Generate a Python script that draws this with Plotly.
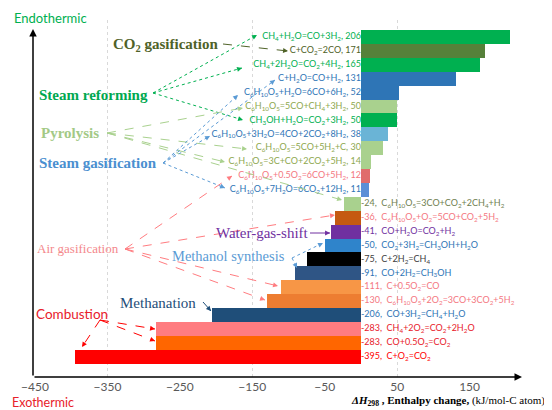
import math
import plotly.graph_objects as go

# ---------------- data ----------------
reactions = [
    "CH4+H2O=CO+3H2", "C+CO2=2CO", "CH4+2H2O=CO2+4H2", "C+H2O=CO+H2",
    "C6H10O5+H2O=6CO+6H2", "C6H10O5=5CO+CH4+3H2", "CH3OH+H2O=CO2+3H2",
    "C6H10O5+3H2O=4CO+2CO2+8H2", "C6H10O5=5CO+5H2+C", "C6H10O5=3C+CO+2CO2+5H2",
    "C6H10O5+0.5O2=6CO+5H2", "C6H10O5+7H2O=6CO2+12H2",
    "C6H10O5=3CO+CO2+2CH4+H2", "C6H10O5+O2=5CO+CO2+5H2", "CO+H2O=CO2+H2",
    "CO2+3H2=CH3OH+H2O", "C+2H2=CH4", "CO+2H2=CH3OH", "C+0.5O2=CO",
    "C6H10O5+2O2=3CO+3CO2+5H2", "CO+3H2=CH4+H2O", "CH4+2O2=CO2+2H2O",
    "CO+0.5O2=CO2", "C+O2=CO2",
]
enthalpy = [206, 171, 165, 131, 52, 50, 50, 38, 30, 14, 12, 11,
            -24, -36, -41, -50, -75, -91, -111, -130, -206, -283, -283, -395]
bar_colors = ["#00B050", "#56813A", "#00B050", "#2E75B6", "#2E75B6", "#A9D18E",
              "#00B050", "#6AB4D6", "#A9D18E", "#A9D18E", "#E06C6C", "#5B8FD6",
              "#A9D18E", "#C55A11", "#7030A0", "#2F84CB", "#000000", "#2F5585",
              "#F79646", "#ED7D31", "#1F4E79", "#FF7C80", "#FF6600", "#FF0000"]
text_colors = ["#00B050", "#4F6228", "#00B050", "#2E75B6", "#2E75B6", "#8EA84E",
               "#00B050", "#2E75B6", "#8EA84E", "#8EA84E", "#F4777F", "#2E75B6",
               "#6F8050", "#F4777F", "#7030A0", "#2E75B6", "#404040", "#2E75B6",
               "#F4777F", "#F4777F", "#2E75B6", "#E8202A", "#E8202A", "#FF0000"]
tick_values = [-450, -350, -250, -150, -50, 50, 150, 250]
grid_values = [-350, -150, 50, 250]


def chem(s):
    out, prev_sub = "", False
    for i, ch in enumerate(s):
        if ch.isdigit() and i > 0 and (s[i - 1].isalpha() or (s[i - 1].isdigit() and prev_sub)):
            out += "<sub>" + ch + "</sub>"
            prev_sub = True
        else:
            out += ch
            prev_sub = False
    return out.replace("</sub><sub>", "")


rows = list(range(len(reactions)))
labels = [(f"{chem(r)}, {v}" if v > 0 else f"{v},  {chem(r)}") for r, v in zip(reactions, enthalpy)]
positions = ["middle left" if v > 0 else "middle right" for v in enthalpy]

# ---------------- geometry (reference pixels; page body has an 8px margin) ----------------
OFF = 8
WIDTH, HEIGHT = 544, 402
PLOT_L, PLOT_R, PLOT_T, PLOT_B = 35, 542, 20, 377   # reference-pixel plot box
ML, MT = PLOT_L - OFF, PLOT_T - OFF
MR = WIDTH - (PLOT_R - OFF)
MB = HEIGHT - (PLOT_B - OFF)
PW, PH = PLOT_R - PLOT_L, PLOT_B - PLOT_T
XMIN, XMAX = -450, 250
ROW0, ROWH = 37, 13.9
YBOT = (PLOT_B - ROW0) / ROWH
YTOP = (PLOT_T - ROW0) / ROWH


def pap(px, py):
    return (px - PLOT_L) / PW, (PLOT_B - py) / PH


fig = go.Figure()
fig.add_trace(go.Bar(
    x=enthalpy, y=rows, orientation="h", width=1.0,
    marker=dict(color=bar_colors, line=dict(width=0)),
    hoverinfo="skip", showlegend=False,
))
fig.add_trace(go.Scatter(
    x=[0] * len(rows), y=rows, mode="text", text=labels, textposition=positions,
    textfont=dict(family="Lato", size=9, color=text_colors),
    hoverinfo="skip", showlegend=False, cliponaxis=False,
))

annotations = []
shapes = []


def text(t, px, py, color, size=15, family="Liberation Serif", xanchor="center"):
    x, y = pap(px, py)
    annotations.append(dict(text=t, x=x, y=y, xref="paper", yref="paper", showarrow=False,
                            xanchor=xanchor, yanchor="middle",
                            font=dict(family=family, size=size, color=color)))


def connector(tail, head, color, dash="dot", width=1.0):
    (tx, ty), (hx, hy) = tail, head
    x0, y0 = pap(tx, ty)
    x1, y1 = pap(hx, hy)
    shapes.append(dict(type="line", xref="paper", yref="paper", x0=x0, y0=y0, x1=x1, y1=y1,
                       line=dict(color=color, width=width, dash=dash)))
    dx, dy = hx - tx, hy - ty
    d = math.hypot(dx, dy) or 1
    L = 5
    annotations.append(dict(text="", x=x1, y=y1, xref="paper", yref="paper", showarrow=True,
                            ax=-dx / d * L, ay=-dy / d * L, arrowhead=2, arrowsize=0.9,
                            arrowwidth=1.1, arrowcolor=color))


# category labels
text("<b>CO<sub>2</sub> gasification</b>", 165, 45, "#4F6228")
text("<b>Steam reforming</b>", 93, 95, "#00A850")
text("<b>Pyrolysis</b>", 70, 133, "#A3C986")
text("<b>Steam gasification</b>", 98, 163, "#4A8FD0")
text("Air gasification", 78, 249, "#F4888C", size=13)
text("Water-gas-shift", 262, 233, "#7030A0")
text("Methanol synthesis", 228, 256, "#5B9BD5", size=14.5)
text("Methanation", 158, 303, "#1F4E79")
text("Combustion", 72, 314, "#E8202A", size=13.5, family="Lato")

# connectors
connector((223, 44), (288, 51), "#4F6228", "dash")
for h in [(257, 35), (242, 68), (243, 120)]:
    connector((153, 93), h, "#00B050", "dot")
for h in [(243, 108), (247, 149), (225, 162), (342, 200)]:
    connector((107, 133), h, "#A9D18E", "dash")
for h in [(275, 80), (238, 95), (210, 136), (225, 188)]:
    connector((163, 163), h, "#5B9BD5", "dot")
for h in [(232, 176), (335, 215), (278, 286), (265, 300)]:
    connector((125, 249), h, "#FF7C80", "dash")
connector((310, 233), (330, 233), "#7030A0", "solid")
for h in [(323, 243), (297, 268)]:
    connector((292, 258), h, "#5B9BD5", "dot")
connector((203, 302), (211, 311), "#1F4E79", "solid")
for h in [(155, 329), (155, 341), (82, 347)]:
    connector((100, 320), h, "#FF0000", "dash")

# axis arrows
hx, hy = pap(33, 29)
annotations.append(dict(text="", x=hx, y=hy, xref="paper", yref="paper",
                        showarrow=True, ax=0, ay=348, arrowhead=2, arrowsize=1, arrowwidth=1.5,
                        arrowcolor="#000000"))
hx, hy = pap(522, 377)
annotations.append(dict(text="", x=hx, y=hy, xref="paper", yref="paper",
                        showarrow=True, ax=-489, ay=0, arrowhead=2, arrowsize=1, arrowwidth=1.5,
                        arrowcolor="#000000"))

text("Endothermic", 50, 18, "#00B050", size=13, family="Lato")
text("Exothermic", 43, 402, "#E8202A", size=12.5, family="Lato")
text("<b><i>ΔH</i><sub>298</sub> , Enthalpy change,</b> (kJ/mol-C atom)", 448, 401, "#000000",
     size=11, family="Liberation Serif")

fig.update_layout(
    width=WIDTH, height=HEIGHT,
    margin=dict(l=ML, r=MR, t=MT, b=MB, autoexpand=False),
    paper_bgcolor="white", plot_bgcolor="white",
    bargap=0,
    xaxis=dict(range=[XMIN, XMAX], tickvals=tick_values, showgrid=False, zeroline=False,
               showline=False, ticks="", ticklabelstandoff=1, automargin=False,
               tickfont=dict(family="Lato", size=12, color="#595959"),
               minor=dict(tickvals=grid_values, showgrid=True, gridcolor="#D9D9D9",
                          griddash="dot", gridwidth=1, ticks="")),
    yaxis=dict(range=[YBOT, YTOP], visible=False, showgrid=False, zeroline=False),
    annotations=annotations, shapes=shapes,
)

fig.write_html("out.html")
